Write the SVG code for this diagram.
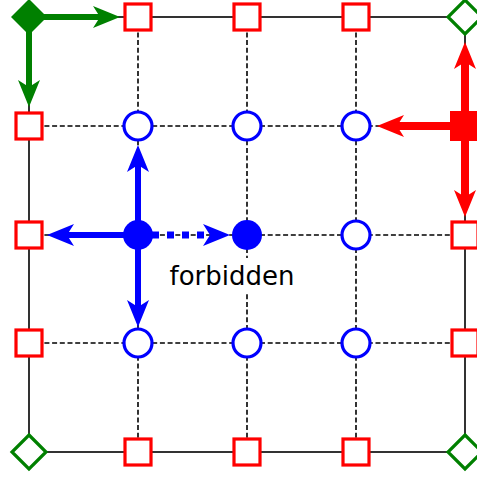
<svg xmlns="http://www.w3.org/2000/svg" width="477" height="482" viewBox="0 0 477 482">
<style>
.solid{stroke:#000;stroke-width:1.6;fill:none}
.dash{stroke:#000;stroke-width:1.6;stroke-dasharray:5 2.7;fill:none}
.sq{fill:#fff;stroke:#f00;stroke-width:3.2}
.ci{fill:#fff;stroke:#00f;stroke-width:3.2}
.di{fill:#fff;stroke:#008000;stroke-width:3.2}
.label{font-family:"DejaVu Sans","Liberation Sans",sans-serif;font-size:26px;fill:#000}
</style>
<defs>
<marker id="ag" markerUnits="userSpaceOnUse" viewBox="0 0 27 22" markerWidth="27" markerHeight="22" refX="7" refY="11" orient="auto"><path d="M0,0 L27,11 L0,22 L7,11 Z" fill="#008000"/></marker>
<marker id="ar" markerUnits="userSpaceOnUse" viewBox="0 0 27 22" markerWidth="27" markerHeight="22" refX="7" refY="11" orient="auto"><path d="M0,0 L27,11 L0,22 L7,11 Z" fill="#f00"/></marker>
<marker id="ab" markerUnits="userSpaceOnUse" viewBox="0 0 27 22" markerWidth="27" markerHeight="22" refX="7" refY="11" orient="auto"><path d="M0,0 L27,11 L0,22 L7,11 Z" fill="#00f"/></marker>
</defs>
<g id="grid">
<rect class="solid" x="29" y="17" width="436" height="435"/>
<path class="dash" d="M138,17V452M247,17V452M356,17V452M29,126H465M29,235H465M29,343H465"/>
</g>
<rect x="165" y="258" width="135" height="34" fill="#fff"/>
<text class="label" x="232" y="285" text-anchor="middle">forbidden</text>
<g id="connectors">
<path d="M29,17H100" stroke="#008000" stroke-width="6" fill="none" marker-end="url(#ag)"/>
<path d="M29,17V87" stroke="#008000" stroke-width="6" fill="none" marker-end="url(#ag)"/>
<path d="M465,126V62" stroke="#f00" stroke-width="8" fill="none" marker-end="url(#ar)"/>
<path d="M465,126H397" stroke="#f00" stroke-width="8" fill="none" marker-end="url(#ar)"/>
<path d="M465,126V197" stroke="#f00" stroke-width="8" fill="none" marker-end="url(#ar)"/>
<path d="M138,235V165" stroke="#00f" stroke-width="6" fill="none" marker-end="url(#ab)"/>
<path d="M138,235H67" stroke="#00f" stroke-width="6" fill="none" marker-end="url(#ab)"/>
<path d="M138,235V307" stroke="#00f" stroke-width="6" fill="none" marker-end="url(#ab)"/>
<path d="M137,235H210" stroke="#00f" stroke-width="7" stroke-dasharray="7 8" fill="none" marker-end="url(#ab)"/>
</g>
<g id="n00"><path d="M29,-1L47,17L29,35L11,17Z" fill="#008000"/></g>
<g id="n10"><rect class="sq" x="125" y="4" width="26" height="26"/></g>
<g id="n20"><rect class="sq" x="234" y="4" width="26" height="26"/></g>
<g id="n30"><rect class="sq" x="343" y="4" width="26" height="26"/></g>
<g id="n40"><path class="di" d="M465,0L482,17L465,34L448,17Z"/></g>
<g id="n01"><rect class="sq" x="16" y="113" width="26" height="26"/></g>
<g id="n11"><circle class="ci" cx="138" cy="126" r="14"/></g>
<g id="n21"><circle class="ci" cx="247" cy="126" r="14"/></g>
<g id="n31"><circle class="ci" cx="356" cy="126" r="14"/></g>
<g id="n41"><rect x="450" y="111" width="30" height="30" fill="#f00"/></g>
<g id="n02"><rect class="sq" x="16" y="222" width="26" height="26"/></g>
<g id="n12"><circle cx="138" cy="235" r="15" fill="#00f"/></g>
<g id="n22"><circle cx="247" cy="235" r="15" fill="#00f"/></g>
<g id="n32"><circle class="ci" cx="356" cy="235" r="14"/></g>
<g id="n42"><rect class="sq" x="452" y="222" width="26" height="26"/></g>
<g id="n03"><rect class="sq" x="16" y="330" width="26" height="26"/></g>
<g id="n13"><circle class="ci" cx="138" cy="343" r="14"/></g>
<g id="n23"><circle class="ci" cx="247" cy="343" r="14"/></g>
<g id="n33"><circle class="ci" cx="356" cy="343" r="14"/></g>
<g id="n43"><rect class="sq" x="452" y="330" width="26" height="26"/></g>
<g id="n04"><path class="di" d="M29,435L46,452L29,469L12,452Z"/></g>
<g id="n14"><rect class="sq" x="125" y="439" width="26" height="26"/></g>
<g id="n24"><rect class="sq" x="234" y="439" width="26" height="26"/></g>
<g id="n34"><rect class="sq" x="343" y="439" width="26" height="26"/></g>
<g id="n44"><path class="di" d="M465,435L482,452L465,469L448,452Z"/></g>
</svg>
